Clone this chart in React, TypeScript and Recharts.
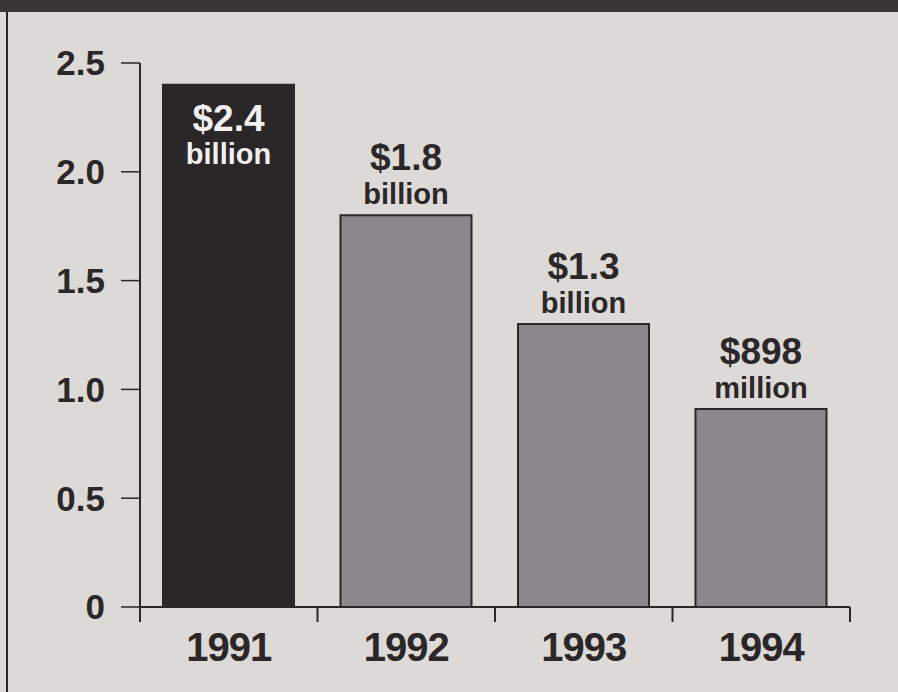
import { Bar, BarChart, Cell, LabelList, XAxis, YAxis } from "recharts";

// values
const years = ["1991", "1992", "1993", "1994"];
const amounts = [2.4, 1.8, 1.3, 0.91];
const amountLabels = ["$2.4", "$1.8", "$1.3", "$898"];
const unitLabels = ["billion", "billion", "billion", "million"];
const yTicks = [0, 0.5, 1, 1.5, 2, 2.5];

const data = years.map((year, i) => ({ year, amount: amounts[i] }));

const INK = "#2b2728";
const FONT = "'Liberation Sans', Arial, sans-serif";
const TICK_GAP = 25;

const BarLabel = (props: any) => {
  const { x, y, width, index } = props;
  const cx = x + width / 2;
  const inside = index === 0;
  const color = inside ? "#f2f0ee" : INK;
  const amountY = inside ? y + 46 : y - 45;
  const unitY = inside ? y + 79 : y - 11;
  return (
    <g fontFamily={FONT} fontWeight={700} fill={color} textAnchor="middle">
      <text x={cx} y={amountY} fontSize={37}>
        {amountLabels[index]}
      </text>
      <text x={cx} y={unitY} fontSize={29}>
        {unitLabels[index]}
      </text>
    </g>
  );
};

// year label, with the tick marks on the category boundaries
const YearTick = (props: any) => {
  const { x, y, payload, index, visibleTicksCount } = props;
  const half = payload.offset || 0;
  const top = y - TICK_GAP;
  const isLast = index === (visibleTicksCount ?? years.length) - 1;
  return (
    <g>
      <line x1={x - half} x2={x - half} y1={top} y2={top + 15} stroke={INK} strokeWidth={2} />
      {isLast && (
        <line x1={x + half} x2={x + half} y1={top} y2={top + 15} stroke={INK} strokeWidth={2} />
      )}
      <text
        x={x}
        y={y + 29}
        textAnchor="middle"
        fontFamily={FONT}
        fontWeight={700}
        fontSize={40}
        letterSpacing={-1}
        fill={INK}
      >
        {payload.value}
      </text>
    </g>
  );
};

export default function App() {
  return (
    <div
      style={{
        position: "absolute",
        left: 0,
        top: 0,
        width: 898,
        height: 692,
        background: "#dcd9d6",
        overflow: "hidden",
      }}
    >
      <div style={{ position: "absolute", left: 0, top: 0, width: 898, height: 12, background: "#3a3536" }} />
      <div style={{ position: "absolute", left: 6, top: 12, width: 2, height: 680, background: INK }} />
      <div style={{ position: "absolute", left: 0, top: 0 }}>
        <BarChart
          width={898}
          height={692}
          data={data}
          margin={{ top: 63, right: 48, left: 0, bottom: 0 }}
        >
          <XAxis
            dataKey="year"
            height={85}
            axisLine={{ stroke: INK, strokeWidth: 2 }}
            tickLine={false}
            tickSize={0}
            tickMargin={TICK_GAP}
            interval={0}
            tick={<YearTick />}
          />
          <XAxis
            xAxisId="top"
            dataKey="year"
            orientation="top"
            height={0}
            tick={false}
            axisLine={{ stroke: INK, strokeWidth: 1.5 }}
          />
          <YAxis
            domain={[0, 2.5]}
            ticks={yTicks}
            width={140}
            axisLine={{ stroke: INK, strokeWidth: 2 }}
            tickSize={19}
            tickMargin={16}
            tickLine={{ stroke: INK, strokeWidth: 1.5 }}
            tickFormatter={(v: number) => (v === 0 ? "0" : v.toFixed(1))}
            tick={{ fontSize: 35, fontWeight: 700, fill: INK, fontFamily: FONT }}
          />
          <YAxis
            yAxisId="right"
            orientation="right"
            domain={[0, 2.5]}
            width={0}
            tick={false}
            axisLine={{ stroke: INK, strokeWidth: 2 }}
          />
          <Bar
            dataKey="amount"
            barSize={131}
            stroke={INK}
            strokeWidth={2}
            isAnimationActive={false}
          >
            {data.map((d, i) => (
              <Cell key={d.year} fill={i === 0 ? "#2b2627" : "#8d868b"} />
            ))}
            <LabelList dataKey="amount" content={BarLabel} />
          </Bar>
        </BarChart>
      </div>
    </div>
  );
}
